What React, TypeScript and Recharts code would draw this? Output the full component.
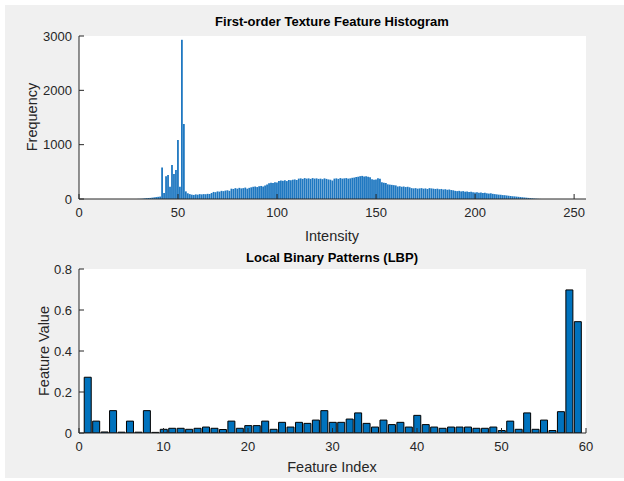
import { Bar, BarChart, CartesianGrid, XAxis, YAxis } from 'recharts';

// intensity histogram, bins 0..255
const intensityCounts: number[] = [
  0, 0, 0, 0, 0, 0, 0, 0, 0, 0, 0, 0, 0, 0, 0, 0, 0, 0, 0, 0, 0, 0, 0, 0, 0, 0, 0, 0, 0, 0,
  2, 3, 5, 10, 15, 18, 20, 25, 30, 35, 40, 45,
  580, 110, 420, 440, 225, 625, 460, 535, 1085, 225, 2930, 1380, 140, 105, 90, 80, 75, 85,
  80, 90, 85, 90, 88, 95, 92, 110, 130, 125, 140, 135, 150, 145, 155, 160, 150, 190, 185, 200,
  190, 205, 195, 200, 210, 190, 205, 215, 225, 230, 220, 235, 240, 230, 250, 265, 290, 300, 295, 310,
  305, 330, 340, 335, 345, 330, 350, 345, 355, 360, 350, 375, 380, 370, 385, 375, 380, 370, 385, 375,
  380, 370, 375, 365, 380, 370, 360, 355, 340, 375, 380, 370, 385, 375, 380, 385, 375, 380, 390, 395,
  405, 410, 420, 425, 415, 420, 410, 400, 365, 355, 360, 380, 375, 310, 300, 295, 270, 265, 260, 255,
  250, 230, 235, 225, 230, 220, 225, 215, 200, 195, 200, 190, 195, 200, 190, 195, 185, 200, 195, 190,
  185, 190, 180, 185, 175, 180, 170, 175, 165, 160, 150, 145, 150, 140, 145, 135, 140, 130, 135, 125,
  120, 125, 115, 120, 110, 115, 105, 100, 105, 95, 90, 85, 80, 78, 72, 70, 65, 60, 55, 52,
  48, 44, 40, 36, 32, 28, 24, 20, 16, 12, 8, 5, 3, 1,
  0, 0, 0, 0, 0, 0, 0, 0, 0, 0, 0, 0, 0, 0, 0, 0, 0, 0, 0, 0, 0, 0,
];

// LBP feature values, index 1..59
const lbpValues: number[] = [
  0.272, 0.058, 0.005, 0.109, 0.004, 0.058, 0.004, 0.109, 0.003, 0.018,
  0.023, 0.023, 0.018, 0.023, 0.029, 0.023, 0.017, 0.058, 0.023, 0.036,
  0.036, 0.058, 0.018, 0.052, 0.029, 0.052, 0.047, 0.063, 0.109, 0.052,
  0.052, 0.068, 0.098, 0.047, 0.029, 0.063, 0.041, 0.052, 0.029, 0.086,
  0.041, 0.029, 0.023, 0.029, 0.029, 0.029, 0.023, 0.023, 0.029, 0.012,
  0.058, 0.018, 0.098, 0.018, 0.063, 0.012, 0.104, 0.698, 0.543,
];

const intensityTicks = [0, 50, 100, 150, 200, 250];
const freqTicks = [0, 1000, 2000, 3000];
const indexTicks = [0, 10, 20, 30, 40, 50, 60];
const valueTicks = [0, 0.2, 0.4, 0.6, 0.8];

const histData = intensityCounts.map((count, i) => ({ x: i, count }));
const lbpData = lbpValues.map((value, i) => ({ x: i + 1, value }));

const FONT = '"Liberation Sans", Arial, Helvetica, sans-serif';
const AXIS = '#262626';
const tickStyle = { fontSize: 13, fill: AXIS, fontFamily: FONT };
const blank = () => '';

const text = (content: string, left: number, top: number, extra: React.CSSProperties = {}) => (
  <div
    style={{
      position: 'absolute', left, top, transform: 'translate(-50%, -50%)', whiteSpace: 'nowrap',
      fontFamily: FONT, fontSize: 14.5, color: AXIS, ...extra,
    }}
  >
    {content}
  </div>
);

export default function App() {
  return (
    <div style={{ position: 'absolute', left: 0, top: 0, width: 624, height: 481, background: '#fff' }}>
      <div style={{ position: 'absolute', left: 5, top: 5, width: 619, height: 473, background: '#f0f0f0' }} />

      <div style={{ position: 'absolute', left: 0, top: 0 }}>
        <BarChart width={624} height={250} data={histData} margin={{ top: 36, right: 38, bottom: 21, left: 29 }} barGap={0}>
          <CartesianGrid fill="#fff" horizontal={false} vertical={false} />
          <XAxis dataKey="x" type="number" domain={[0, 256]} ticks={intensityTicks} stroke={AXIS} tick={tickStyle}
            tickSize={-5} tickMargin={14} height={30} interval={0} allowDataOverflow />
          <XAxis xAxisId="top" orientation="top" dataKey="x" type="number" domain={[0, 256]} ticks={intensityTicks}
            stroke={AXIS} tickFormatter={blank} tickSize={-5} height={0} interval={0} allowDataOverflow />
          <YAxis type="number" domain={[0, 3000]} ticks={freqTicks} stroke={AXIS} tick={tickStyle} tickSize={-5}
            tickMargin={12} width={50} interval={0} allowDataOverflow />
          <YAxis yAxisId="right" orientation="right" type="number" domain={[0, 3000]} ticks={freqTicks} stroke={AXIS}
            tickFormatter={blank} tickSize={-5} width={0} interval={0} allowDataOverflow />
          <Bar dataKey="count" fill="#1f78c1" barSize={1.8} isAnimationActive={false} />
        </BarChart>
      </div>

      <div style={{ position: 'absolute', left: 0, top: 240 }}>
        <BarChart width={624} height={240} data={lbpData} margin={{ top: 29, right: 38, bottom: 17, left: 29 }}>
          <CartesianGrid fill="#fff" horizontal={false} vertical={false} />
          <XAxis dataKey="x" type="number" domain={[0, 60]} ticks={indexTicks} stroke={AXIS} tick={tickStyle}
            tickSize={-5} tickMargin={14} height={30} interval={0} allowDataOverflow />
          <XAxis xAxisId="top" orientation="top" dataKey="x" type="number" domain={[0, 60]} ticks={indexTicks}
            stroke={AXIS} tickFormatter={blank} tickSize={-5} height={0} interval={0} allowDataOverflow />
          <YAxis type="number" domain={[0, 0.8]} ticks={valueTicks} stroke={AXIS} tick={tickStyle} tickSize={-5}
            tickMargin={12} width={50} interval={0} allowDataOverflow />
          <YAxis yAxisId="right" orientation="right" type="number" domain={[0, 0.8]} ticks={valueTicks} stroke={AXIS}
            tickFormatter={blank} tickSize={-5} width={0} interval={0} allowDataOverflow />
          <Bar dataKey="value" fill="#0072BD" stroke="#000" strokeWidth={1} barSize={7} isAnimationActive={false} />
        </BarChart>
      </div>

      {text('First-order Texture Feature Histogram', 332, 21, { fontWeight: 'bold', color: '#000', fontSize: 13 })}
      {text('Intensity', 332, 236)}
      {text('Frequency', 32, 117, { transform: 'translate(-50%, -50%) rotate(-90deg)' })}
      {text('Local Binary Patterns (LBP)', 332, 257, { fontWeight: 'bold', color: '#000', fontSize: 13 })}
      {text('Feature Index', 332, 467)}
      {text('Feature Value', 44, 351, { transform: 'translate(-50%, -50%) rotate(-90deg)' })}
    </div>
  );
}
